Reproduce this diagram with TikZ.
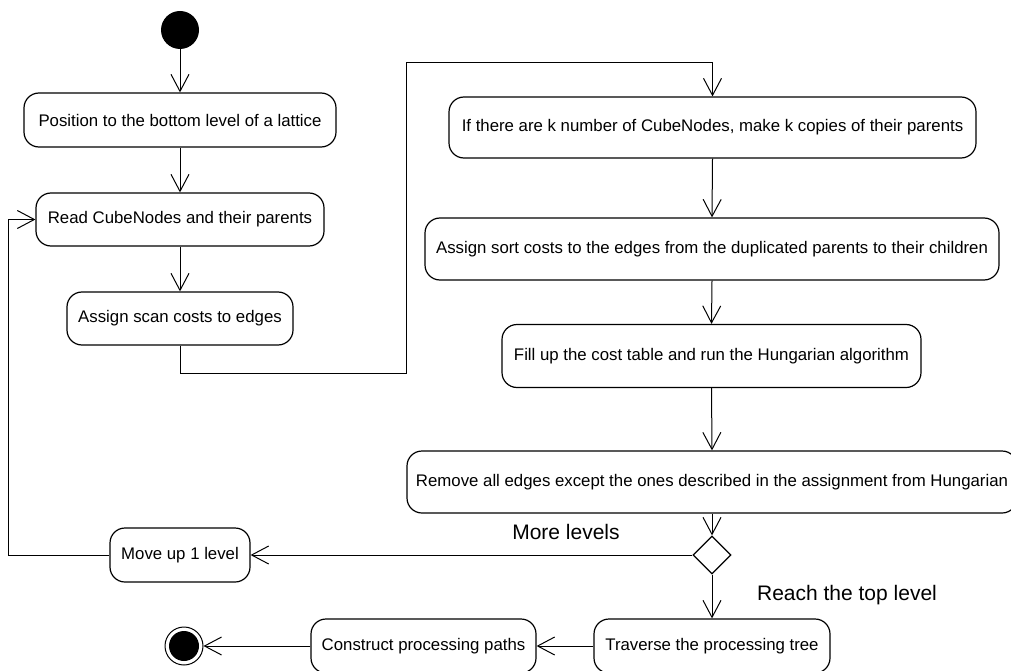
\documentclass[tikz,border=0pt]{standalone}
\usepackage{fontspec}
\setmainfont{Liberation Sans}
\usetikzlibrary{arrows.meta,shapes.geometric}
\begin{document}
\begin{tikzpicture}[x=1pt,y=-1pt,
  act/.style={draw,line width=1.2pt,rounded corners=15pt,align=center,
    inner sep=0pt,font=\fontsize{16.8}{19}\selectfont},
  flow/.style={line width=1pt,-{Straight Barb[length=17pt,width=18pt,line width=1pt]}},
  guard/.style={font=\fontsize{21}{24}\selectfont}]
\useasboundingbox (0,0) rectangle (1011,671);
\clip (0,0) rectangle (1011,671);

% initial and final states
\node[circle,fill=black,minimum size=38pt,inner sep=0pt] (start) at (180,30) {};
\node[circle,draw,line width=1pt,minimum size=38pt,inner sep=0pt] (final) at (184,646) {};
\fill (final.center) circle (15pt);

% actions of the left column
\node[act,minimum width=312pt,minimum height=54pt] (b1) at (180,120) {Position to the bottom level of a lattice};
\node[act,minimum width=288pt,minimum height=53pt] (b2) at (180,219.5) {Read CubeNodes and their parents};
\node[act,minimum width=226pt,minimum height=53pt] (b3) at (180,318.5) {Assign scan costs to edges};
\node[act,minimum width=140pt,minimum height=54pt] (mv) at (180,555) {Move up 1 level};

% actions of the right column
\node[act,minimum width=527pt,minimum height=61pt] (b4) at (712.5,127.5) {If there are k number of CubeNodes, make k copies of their parents};
\node[act,minimum width=574pt,minimum height=62pt] (b5) at (712,249) {Assign sort costs to the edges from the duplicated parents to their children};
\node[act,minimum width=419pt,minimum height=63pt] (b6) at (711.5,356) {Fill up the cost table and run the Hungarian algorithm};
\node[act,minimum width=610pt,minimum height=62pt] (b7) at (712,482) {Remove all edges except the ones described in the assignment from Hungarian};
\node[diamond,draw,line width=1.2pt,minimum width=38pt,minimum height=38pt,inner sep=0pt] (dec) at (712,555) {};
\node[act,minimum width=236pt,minimum height=54pt] (trav) at (712,646) {Traverse the processing tree};
\node[act,minimum width=225pt,minimum height=54pt] (cons) at (423.5,646) {Construct processing paths};

% guards
\node[guard] (gmore) at (566,532) {More levels};
\node[guard] (gtop) at (847,595) {Reach the top level};

% bend points
\coordinate (c1) at (406,373);
\coordinate (c2) at (406,63);
\coordinate (c3) at (8,555);

% transitions
\draw[flow] (start) -- (b1);
\draw[flow] (b1) -- (b2);
\draw[flow] (b2) -- (b3);
\draw[flow] (b3.south) |- (c1) -- (c2) -| (b4.north);
\draw[flow] (b4.south) -- (b5.north);
\draw[flow] (b5.south) -- (b6.north);
\draw[flow] (b6.south) -- (b7.north);
\draw[flow] (b7.south) -- (dec.north);
\draw[flow] (dec.west) -- (mv.east);
\draw[flow] (mv.west) -- (c3) |- (b2.west);
\draw[flow] (dec.south) -- (trav.north);
\draw[flow] (trav.west) -- (cons.east);
\draw[flow] (cons.west) -- (final.east);
\end{tikzpicture}
\end{document}
